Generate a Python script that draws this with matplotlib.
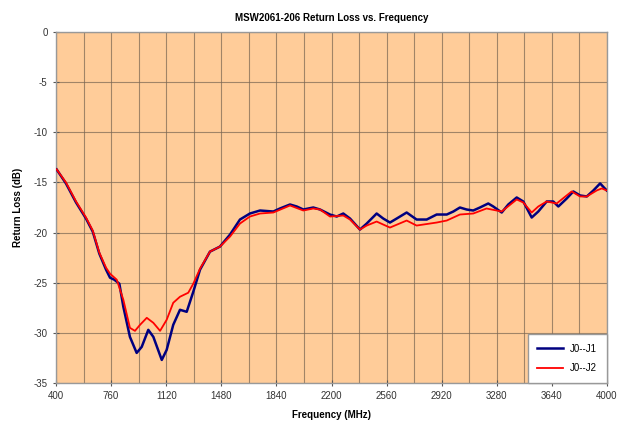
import matplotlib.pyplot as plt
import numpy as np

plt.rcParams['font.family'] = ['Liberation Sans', 'DejaVu Sans']
plt.rcParams['axes.unicode_minus'] = False

# J0--J1 trace (MHz, dB)
freq_j1 = [404, 465, 531, 596, 640, 683, 727, 753, 781, 814, 840, 883, 927,
           960, 1003, 1036, 1091, 1123, 1166, 1210, 1254, 1297, 1341, 1406,
           1471, 1537, 1602, 1667, 1733, 1820, 1863, 1929, 1973, 2016, 2081,
           2125, 2190, 2234, 2277, 2321, 2386, 2430, 2495, 2538, 2582, 2626,
           2691, 2756, 2822, 2887, 2953, 2996, 3039, 3083, 3126, 3170, 3224,
           3257, 3312, 3355, 3410, 3453, 3508, 3551, 3606, 3649, 3682, 3737,
           3780, 3824, 3868, 3911, 3955, 3998]
rl_j1 = [-13.7, -15.1, -17.0, -18.6, -19.9, -22.1, -23.7, -24.5, -24.7, -25.1,
         -27.4, -30.4, -32.0, -31.4, -29.7, -30.4, -32.7, -31.7, -29.2, -27.7,
         -27.9, -25.9, -23.7, -21.9, -21.4, -20.2, -18.7, -18.1, -17.8, -17.9,
         -17.6, -17.2, -17.4, -17.7, -17.5, -17.7, -18.2, -18.4, -18.1, -18.6,
         -19.7, -19.1, -18.1, -18.6, -19.0, -18.6, -18.0, -18.7, -18.7, -18.2,
         -18.2, -17.9, -17.5, -17.7, -17.8, -17.5, -17.1, -17.4, -18.0, -17.2,
         -16.5, -16.9, -18.5, -17.9, -16.9, -16.9, -17.4, -16.6, -15.9, -16.3,
         -16.4, -15.8, -15.1, -15.8]

# J0--J2 trace (MHz, dB)
freq_j2 = [404, 465, 531, 596, 640, 683, 727, 753, 797, 840, 883, 916, 949,
           993, 1036, 1080, 1123, 1166, 1210, 1264, 1297, 1341, 1406, 1471,
           1537, 1602, 1667, 1733, 1820, 1929, 2016, 2081, 2125, 2190, 2277,
           2321, 2386, 2430, 2495, 2538, 2582, 2691, 2756, 2843, 2887, 2953,
           3039, 3126, 3213, 3312, 3410, 3453, 3508, 3551, 3606, 3671, 3769,
           3824, 3868, 3933, 3966, 3998]
rl_j2 = [-13.7, -15.0, -16.9, -18.5, -19.8, -22.0, -23.5, -24.1, -24.7, -26.7,
         -29.5, -29.8, -29.2, -28.5, -29.0, -29.8, -28.7, -27.0, -26.4, -26.0,
         -25.1, -23.6, -21.9, -21.4, -20.4, -19.1, -18.4, -18.1, -18.0, -17.3,
         -17.8, -17.6, -17.7, -18.4, -18.3, -18.7, -19.7, -19.3, -18.9, -19.2,
         -19.5, -18.8, -19.3, -19.1, -19.0, -18.8, -18.2, -18.1, -17.6, -17.9,
         -16.7, -17.0, -18.0, -17.4, -16.9, -17.1, -15.9, -16.4, -16.4, -15.8,
         -15.6, -15.8]

x_ticks = np.arange(400, 4001, 360)
y_ticks = np.arange(-35, 1, 5)

fig = plt.figure(figsize=(6.27, 4.29), dpi=100)
ax = fig.add_axes([56/627, 46/429, 551/627, 351/429])
ax.set_facecolor('#FFCC99')

ax.plot(freq_j1, rl_j1, color='#000080', lw=1.8, label='J0--J1', zorder=3)
ax.plot(freq_j2, rl_j2, color='#FF0000', lw=1.3, label='J0--J2', zorder=4)

ax.set_xlim(400, 4000)
ax.set_ylim(-35, 0)
ax.set_xticks(x_ticks)
ax.set_xticks(np.arange(400, 4001, 180), minor=True)
ax.set_yticks(y_ticks)
ax.grid(True, which='both', color='#7a6652', lw=0.8, alpha=0.7)
ax.set_axisbelow(True)

for s in ax.spines.values():
    s.set_color('#999999')
    s.set_linewidth(1.0)
ax.tick_params(axis='both', which='both', labelsize=7, colors='#555555',
               direction='inout', length=4)
ax.tick_params(axis='x', which='minor', length=0)
ax.tick_params(axis='both', labelcolor='#333333', pad=4)

ax.set_title('MSW2061-206 Return Loss vs. Frequency', fontsize=7,
             fontweight='bold', pad=8)
ax.set_xlabel('Frequency (MHz)', fontsize=7, fontweight='bold', labelpad=6)
ax.set_ylabel('Return Loss (dB)', fontsize=7, fontweight='bold', labelpad=8)

leg = ax.legend(loc='lower right', fontsize=7, frameon=True, fancybox=False,
                borderaxespad=0, handlelength=2.6, handletextpad=0.8,
                labelspacing=1.0, borderpad=1.0)
leg.get_frame().set_edgecolor('#999999')
leg.get_frame().set_facecolor('white')
leg.get_frame().set_alpha(1)

fig.savefig('out.png', dpi=100, facecolor='w')
